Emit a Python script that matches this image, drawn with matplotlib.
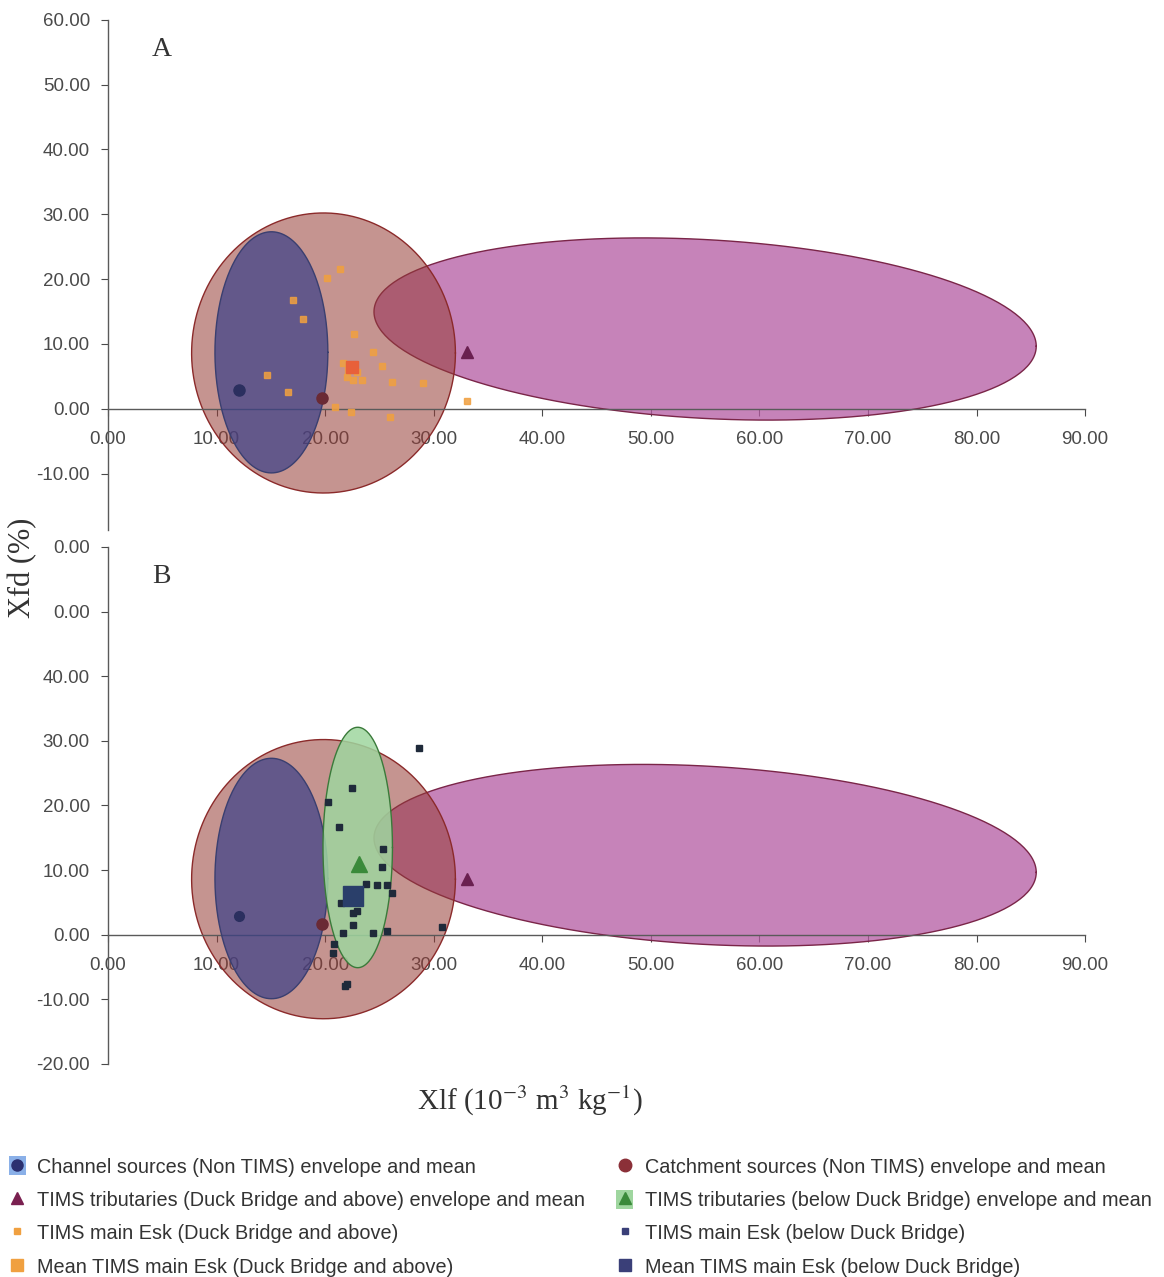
''' Xfd vs Xlf source envelopes - panels A and B '''

import numpy as np
import matplotlib
matplotlib.use("Agg")
import matplotlib.pyplot as plt
from matplotlib.patches import Patch
from matplotlib.lines import Line2D
from matplotlib.legend_handler import HandlerTuple

plt.rcParams['font.family'] = ['Liberation Sans', 'DejaVu Sans']
plt.rcParams['mathtext.fontset'] = 'stix'

# envelopes: centre x, centre y, half width, half height, tilt of the ends
channel_env     = [15.05, 8.7, 5.2, 18.6, 0.0]
catchment_env   = [19.85, 8.6, 12.15, 21.6, 0.0]
trib_above_env  = [55.0, 12.3, 30.5, 13.8, -2.65]
trib_below_env  = [23.0, 13.5, 3.2, 18.6, 0.0]

# means of the sources
channel_mean    = [12.1, 2.9]
catchment_mean  = [19.7, 1.7]
trib_above_mean = [33.1, 8.7]
trib_below_mean = [23.1, 11.0]

# TIMS main Esk (Duck Bridge and above) - panel A
esk_above_x = [21.4, 20.2, 22.7, 24.4, 25.2, 21.6, 22.0, 22.6, 23.4, 26.2, 29.0,
               33.1, 20.9, 22.4, 26.0, 14.6, 16.6, 17.0, 18.0, 22.1, 22.9]
esk_above_y = [21.5, 20.2, 11.6, 8.7, 6.6, 7.1, 4.9, 4.5, 4.5, 4.2, 4.0,
               1.2, 0.3, -0.5, -1.2, 5.2, 2.6, 16.8, 13.9, 6.0, 5.7]
esk_above_mean = [22.5, 6.5]

# TIMS main Esk (below Duck Bridge) - panel B
esk_below_x = [28.6, 22.5, 20.3, 21.3, 25.2, 25.3, 23.8, 24.8, 25.7, 26.2, 21.5,
               22.6, 22.9, 22.6, 21.6, 24.4, 25.7, 30.8, 20.8, 20.7, 21.8, 22.0]
esk_below_y = [28.9, 22.7, 20.5, 16.7, 10.5, 13.3, 7.9, 7.7, 7.7, 6.5, 4.9,
               3.4, 3.7, 1.5, 0.3, 0.3, 0.6, 1.2, -1.4, -2.9, -8.0, -7.7]
esk_below_mean = [22.6, 6.0]

x_ticks   = [0, 10, 20, 30, 40, 50, 60, 70, 80, 90]
ya_ticks  = [-10, 0, 10, 20, 30, 40, 50, 60]
yb_ticks  = [-20, -10, 0, 10, 20, 30, 40, 50, 60]
yb_labels = ['-20.00', '-10.00', '0.00', '10.00', '20.00', '30.00', '40.00', '0.00', '0.00']

labels = ["Channel sources (Non TIMS) envelope and mean",
          "TIMS tributaries (Duck Bridge and above) envelope and mean",
          "TIMS main Esk (Duck Bridge and above)",
          "Mean TIMS main Esk (Duck Bridge and above)",
          "Catchment sources (Non TIMS) envelope and mean",
          "TIMS tributaries (below Duck Bridge) envelope and mean",
          "TIMS main Esk (below Duck Bridge)",
          "Mean TIMS main Esk (below Duck Bridge)"]


def envelope(env, n=300):
    cx, cy, rx, ry, tilt = env
    t = np.linspace(0, 2 * np.pi, n)
    return cx + rx * np.cos(t), cy + ry * np.sin(t) + tilt * np.cos(t)


def draw_envelope(ax, env, face, edge, alpha, z):
    xs, ys = envelope(env)
    ax.fill(xs, ys, facecolor=face, alpha=alpha, zorder=z, edgecolor='none')
    ax.plot(xs, ys, color=edge, lw=1.0, zorder=z + 0.1)


def base_axes(ax, ylim, yticks, ylabels):
    ax.set_xlim(0, 90)
    ax.set_ylim(*ylim)
    ax.spines['top'].set_visible(False)
    ax.spines['right'].set_visible(False)
    ax.spines['bottom'].set_position(('data', 0))
    for s in ['left', 'bottom']:
        ax.spines[s].set_color('#5a5a5a')
        ax.spines[s].set_linewidth(1.0)
    ax.set_xticks(x_ticks)
    ax.set_xticklabels(['%.2f' % v for v in x_ticks])
    ax.set_yticks(yticks)
    ax.set_yticklabels(ylabels)
    ax.tick_params(axis='x', direction='out', length=5, pad=11, labelsize=13.5,
                   colors='#4a4a4a')
    ax.tick_params(axis='y', direction='out', length=5, pad=8, labelsize=13.5,
                   colors='#4a4a4a')
    ax.set_axisbelow(True)
    ax.patch.set_alpha(0)


def panel_common(ax):
    draw_envelope(ax, trib_above_env, '#b45aa2', '#7a2548', 0.75, 1)
    draw_envelope(ax, catchment_env, '#963c36', '#8b2a2a', 0.55, 2)
    draw_envelope(ax, channel_env, '#3a3f88', '#3a3f70', 0.7, 3)


fig = plt.figure(figsize=(11.64, 12.77), dpi=100)
ax_a = fig.add_axes([0.0928, 0.585, 0.8394, 0.3995])
ax_b = fig.add_axes([0.0928, 0.1668, 0.8394, 0.4049])

# panel A
base_axes(ax_a, (-18.7, 60), ya_ticks, ['%.2f' % v for v in ya_ticks])
panel_common(ax_a)
ax_a.plot(esk_above_x, esk_above_y, 's', color='#f0a040', ms=4, alpha=0.85, zorder=6)
ax_a.plot(*esk_above_mean, 's', color='#e8603a', ms=9, zorder=7)
ax_a.plot(*channel_mean, 'o', color='#2b2f5f', ms=8, zorder=7)
ax_a.plot(*catchment_mean, 'o', color='#6a2a35', ms=8, zorder=7)
ax_a.plot(*trib_above_mean, '^', color='#6a2050', ms=9, zorder=7)
ax_a.text(0.045, 0.93, 'A', transform=ax_a.transAxes, fontsize=20,
          family='Liberation Serif', color='#333333')

# panel B
base_axes(ax_b, (-20, 60), yb_ticks, yb_labels)
panel_common(ax_b)
draw_envelope(ax_b, trib_below_env, '#9fd69f', '#3a7a3a', 0.85, 4)
ax_b.plot(esk_below_x, esk_below_y, 's', color='#1f2a3a', ms=5, zorder=6)
ax_b.plot(*esk_below_mean, 's', color='#2a3f6a', ms=15, zorder=7)
ax_b.plot(*channel_mean, 'o', color='#2b2f5f', ms=7, zorder=7)
ax_b.plot(*catchment_mean, 'o', color='#6a2a35', ms=8, zorder=7)
ax_b.plot(*trib_above_mean, '^', color='#6a2050', ms=9, zorder=7)
ax_b.plot(*trib_below_mean, '^', color='#3a8a3a', ms=11, zorder=7)
ax_b.text(0.045, 0.93, 'B', transform=ax_b.transAxes, fontsize=20,
          family='Liberation Serif', color='#333333')

# axis titles
fig.text(0.019, 0.555, 'Xfd (%)', rotation=90, ha='center', va='center',
         fontsize=22, family='Liberation Serif', color='#333333')
fig.text(0.455, 0.138, 'Xlf (10$^{-3}$ m$^{3}$ kg$^{-1}$)', ha='center', va='center',
         fontsize=21, family='Liberation Serif', color='#333333')

# legend
handles = [
    (Patch(facecolor='#8ab0e8', edgecolor='none'),
     Line2D([], [], marker='o', color='#2b3070', ls='none', ms=8)),
    Line2D([], [], marker='^', color='#7a2050', ls='none', ms=9),
    Line2D([], [], marker='s', color='#f0a040', ls='none', ms=4),
    Line2D([], [], marker='s', color='#f0a040', ls='none', ms=8),
    Line2D([], [], marker='o', color='#8b3038', ls='none', ms=9),
    (Patch(facecolor='#9fd69f', edgecolor='none'),
     Line2D([], [], marker='^', color='#3a8a3a', ls='none', ms=9)),
    Line2D([], [], marker='s', color='#3a3f78', ls='none', ms=4),
    Line2D([], [], marker='s', color='#3a3f78', ls='none', ms=8),
]
fig.legend(handles, labels, ncol=2, loc='lower left', bbox_to_anchor=(0.004, -0.003),
           frameon=False, fontsize=14.3, handlelength=0.85, handleheight=1.1,
           handletextpad=0.6, labelspacing=0.66, columnspacing=1.55,
           borderaxespad=0.1, borderpad=0.1,
           handler_map={tuple: HandlerTuple(ndivide=1, pad=0)},
           labelcolor='#333333')

fig.savefig('out.png', dpi=100)
